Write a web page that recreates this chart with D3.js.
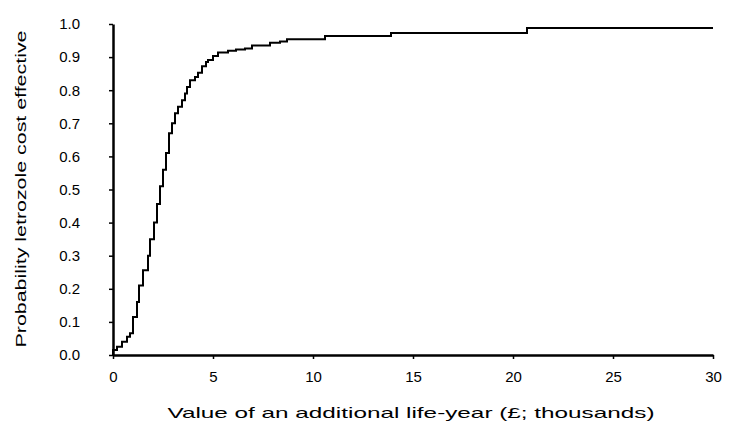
<!DOCTYPE html>
<html><head><meta charset="utf-8">
<script src="https://cdn.jsdelivr.net/npm/d3@7"></script>
<style>body{margin:0;background:#fff;}svg{display:block;}</style>
</head><body>
<svg id="c" width="731" height="429"></svg>
<script>
const wtpValues = [0,0.2,0.45,0.7,0.85,1.0,1.2,1.3,1.5,1.75,1.85,2.05,2.2,2.35,2.5,2.65,2.8,2.95,3.1,3.25,3.45,3.6,3.7,3.85,4.1,4.25,4.45,4.65,4.75,5.0,5.25,5.75,6.15,6.6,6.95,7.85,8.35,8.7,10.6,13.9,20.7,30];
const probValues = [0.015,0.025,0.04,0.055,0.066,0.115,0.16,0.21,0.256,0.30,0.35,0.40,0.456,0.51,0.56,0.61,0.67,0.70,0.73,0.75,0.77,0.79,0.81,0.83,0.84,0.853,0.872,0.885,0.891,0.903,0.914,0.919,0.923,0.926,0.935,0.943,0.947,0.954,0.964,0.973,0.988,0.988];
const xTicks = [0,5,10,15,20,25,30];
const yTicks = [0,0.1,0.2,0.3,0.4,0.5,0.6,0.7,0.8,0.9,1.0];
const xTitle = "Value of an additional life-year (£; thousands)";
const yTitle = "Probability letrozole cost effective";

const svg = d3.select("#c");
const x = d3.scaleLinear().domain([0,30]).range([113,713]);
const y = d3.scaleLinear().domain([0,1]).range([355,24]);
const font = "'Liberation Sans', Arial, sans-serif";

const pts = [[0,0]].concat(wtpValues.map((d,i)=>[d,probValues[i]]));
const line = d3.line().x(d=>x(d[0])).y(d=>y(d[1])).curve(d3.curveStepAfter);
svg.append("path").attr("d", line(pts)).attr("fill","none").attr("stroke","#000").attr("stroke-width",2);

const xa = svg.append("g").attr("transform","translate(0,355)")
  .call(d3.axisBottom(x).tickValues(xTicks).tickFormat(d3.format("d")).tickSize(4).tickSizeOuter(0).tickPadding(12));
const ya = svg.append("g").attr("transform","translate(113,0)")
  .call(d3.axisLeft(y).tickValues(yTicks).tickFormat(d3.format(".1f")).tickSize(4).tickSizeOuter(0).tickPadding(29));
[xa,ya].forEach(a=>{
  a.select(".domain").attr("stroke","#000").attr("stroke-width",2.5);
  a.selectAll(".tick line").attr("stroke","#000").attr("stroke-width",1.5);
  a.selectAll("text").attr("font-family",font).attr("font-size",15).attr("fill","#000");
});

svg.append("text").attr("x",411).attr("y",418).attr("text-anchor","middle")
  .attr("font-family",font).attr("font-size",15).attr("textLength",487).attr("lengthAdjust","spacingAndGlyphs").text(xTitle);
svg.append("text").attr("transform","translate(26,189) rotate(-90)").attr("text-anchor","middle")
  .attr("font-family",font).attr("font-size",15).attr("textLength",317).attr("lengthAdjust","spacingAndGlyphs").text(yTitle);
</script>
</body></html>
